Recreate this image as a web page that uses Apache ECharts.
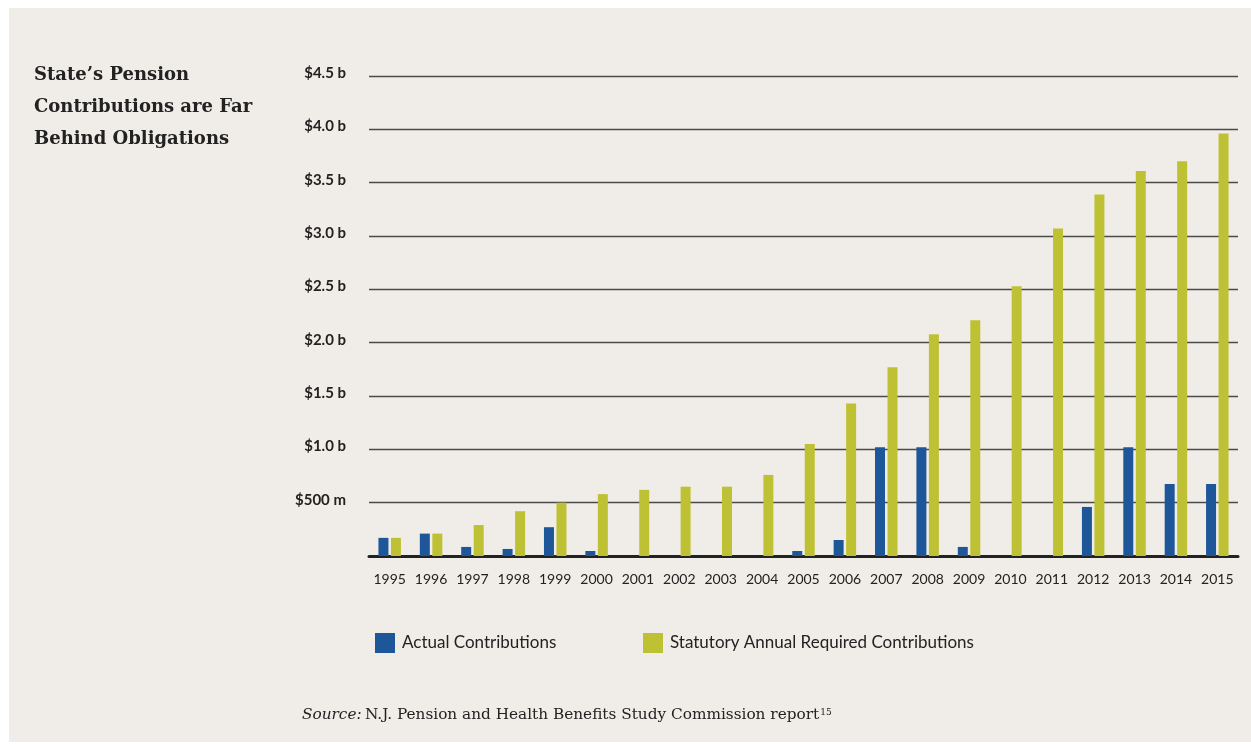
<!DOCTYPE html>
<html>
<head>
<meta charset="utf-8">
<script src="https://cdn.jsdelivr.net/npm/echarts@6/dist/echarts.min.js"></script>
<style>
html,body{margin:0;padding:0;background:#ffffff;}
#frame{position:absolute;left:9px;top:8px;width:1242px;height:734px;background:#f0ede8;}
#chart{position:absolute;left:0;top:0;width:1251px;height:744px;}
</style>
</head>
<body>
<div id="frame"></div>
<div id="chart"></div>
<script>
const years = ['1995','1996','1997','1998','1999','2000','2001','2002','2003','2004','2005','2006','2007','2008','2009','2010','2011','2012','2013','2014','2015'];
const actual = [0.17,0.21,0.085,0.066,0.27,0.047,0,0,0,0,0.047,0.15,1.02,1.02,0.085,0,0,0.46,1.02,0.675,0.675];
const required = [0.17,0.21,0.29,0.42,0.50,0.58,0.62,0.65,0.65,0.76,1.05,1.43,1.77,2.08,2.21,2.53,3.07,3.39,3.61,3.70,3.96];
const seriesNames = ['Actual Contributions','Statutory Annual Required Contributions'];
const titleLines = ['State\u2019s Pension','Contributions are Far','Behind Obligations'];

const chart = echarts.init(document.getElementById('chart'), null, {renderer:'canvas'});
const sansFont = 'Lato, "Noto Sans", sans-serif';
chart.setOption({
  backgroundColor: 'transparent',
  animation: false,
  grid: {left: 369, right: 13, top: 76, bottom: 188},
  xAxis: {
    type: 'category',
    data: years,
    axisLine: {show: true, lineStyle: {color: '#222', width: 3}},
    axisTick: {show: false},
    axisLabel: {color: '#222', fontFamily: sansFont, fontSize: 14, margin: 16, interval: 0}
  },
  yAxis: {
    type: 'value', min: 0, max: 4.5, interval: 0.5,
    axisLine: {show: false}, axisTick: {show: false},
    splitLine: {lineStyle: {color: '#4a4a4a', width: 1.3}},
    axisLabel: {
      color: '#222', margin: 23,
      formatter: function(v){
        if (v === 0) return '';
        const t = Math.abs(v-0.5) < 1e-9 ? '$500 m' : '$' + v.toFixed(1) + ' b';
        return '{a|' + t + '}';
      },
      rich: {a: {fontFamily: sansFont, fontWeight: 'bold', fontSize: 15, color: '#222', padding: [0,0,6,0]}}
    }
  },
  legend: [
    {data: [seriesNames[0]], left: 375, top: 633, padding: 0, icon: 'rect', itemWidth: 20, itemHeight: 20, itemGap: 0,
     textStyle: {color: '#222', fontFamily: sansFont, fontSize: 17, padding: [0,0,0,2]}},
    {data: [seriesNames[1]], left: 643, top: 633, padding: 0, icon: 'rect', itemWidth: 20, itemHeight: 20, itemGap: 0,
     textStyle: {color: '#222', fontFamily: sansFont, fontSize: 17, padding: [0,0,0,2]}}
  ],
  series: [
    {name: seriesNames[0], type: 'bar', data: actual, barWidth: 10, barGap: '25%',
     itemStyle: {color: '#1e5799'}},
    {name: seriesNames[1], type: 'bar', data: required, barWidth: 10,
     itemStyle: {color: '#bfc135'}}
  ],
  graphic: [
    {type: 'text', left: 34, top: 59,
     style: {text: titleLines.join('\n'), fill: '#222', font: 'bold 18px "DejaVu Serif", serif', lineHeight: 32}},
    {type: 'text', left: 302, top: 708,
     style: {
       text: '{i|Source:} {r|N.J. Pension and Health Benefits Study Commission report}{s|15}',
       rich: {
         i: {font: 'italic 15.3px "DejaVu Serif", serif', fill: '#222'},
         r: {font: '15.3px "DejaVu Serif", serif', fill: '#222'},
         s: {font: '9px "DejaVu Serif", serif', fill: '#222', verticalAlign: 'top', padding: [0,0,6,1]}
       }
     }}
  ]
});
</script>
</body>
</html>
